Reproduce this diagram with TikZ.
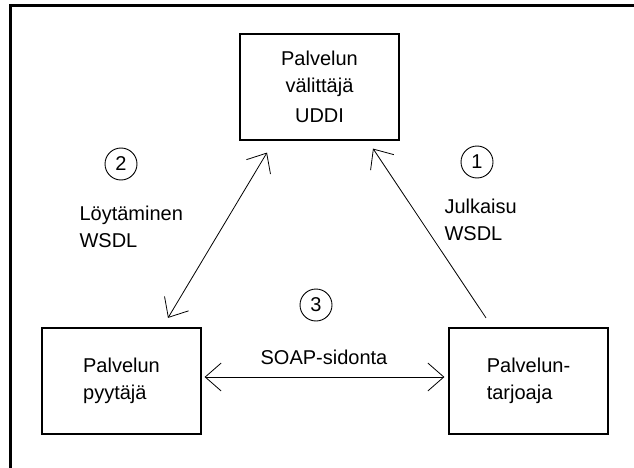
\documentclass[tikz,border=0pt]{standalone}
\usepackage{fontspec}
\setmainfont{Liberation Sans}
\usepackage{tikz}
\usetikzlibrary{arrows.meta,positioning,calc}

\begin{document}
\begin{tikzpicture}[x=1pt,y=-1pt,font=\fontsize{20}{27}\selectfont,
    >={Straight Barb[length=16pt,width=28pt]},
    box/.style={draw,line width=1.2pt,minimum width=159pt,minimum height=106pt,inner sep=0pt},
    num/.style={draw,circle,line width=0.9pt,minimum size=32pt,inner sep=0pt},
    link/.style={line width=0.8pt}]
  \useasboundingbox (0,0) rectangle (634,468);
  \draw[line width=3pt] (10,468) -- (10,6) -- (634,6);
  % the three parties
  \node[box,align=center] (broker) at (319.5,87) {Palvelun\\välittäjä\\[3pt]UDDI};
  \node[box,align=left] (requester) at (121.5,381) {Palvelun\\pyytäjä};
  \node[box,align=left] (provider) at (528.5,381) {Palvelun-\\tarjoaja};
  % steps
  \node[num] (n1) at (477,162) {1};
  \node[num] (n2) at (121,164) {2};
  \node[num] (n3) at (316,305) {3};
  \node[anchor=west,align=left] (publish) at (441,220) {Julkaisu\\WSDL};
  \node[anchor=west,align=left] (find) at (76,227) {Löytäminen\\WSDL};
  \node (bind) at (324,357) {SOAP-sidonta};
  % arrow ends
  \coordinate (find-a) at ([xshift=46.5pt,yshift=9.5pt]requester.north);
  \coordinate (find-b) at ([xshift=-52.5pt,yshift=-12pt]broker.south);
  \coordinate (pub-a) at ([xshift=-42.5pt,yshift=9.5pt]provider.north);
  \coordinate (pub-b) at ([xshift=53.5pt,yshift=-8pt]broker.south);
  \draw[link,<->] (find-a) -- (find-b);
  \draw[link,->] (pub-a) -- (pub-b);
  \draw[link,<->,shorten <=3pt,shorten >=4pt] ([yshift=4pt]requester.east) -- ([yshift=4pt]provider.west);
\end{tikzpicture}
\end{document}
